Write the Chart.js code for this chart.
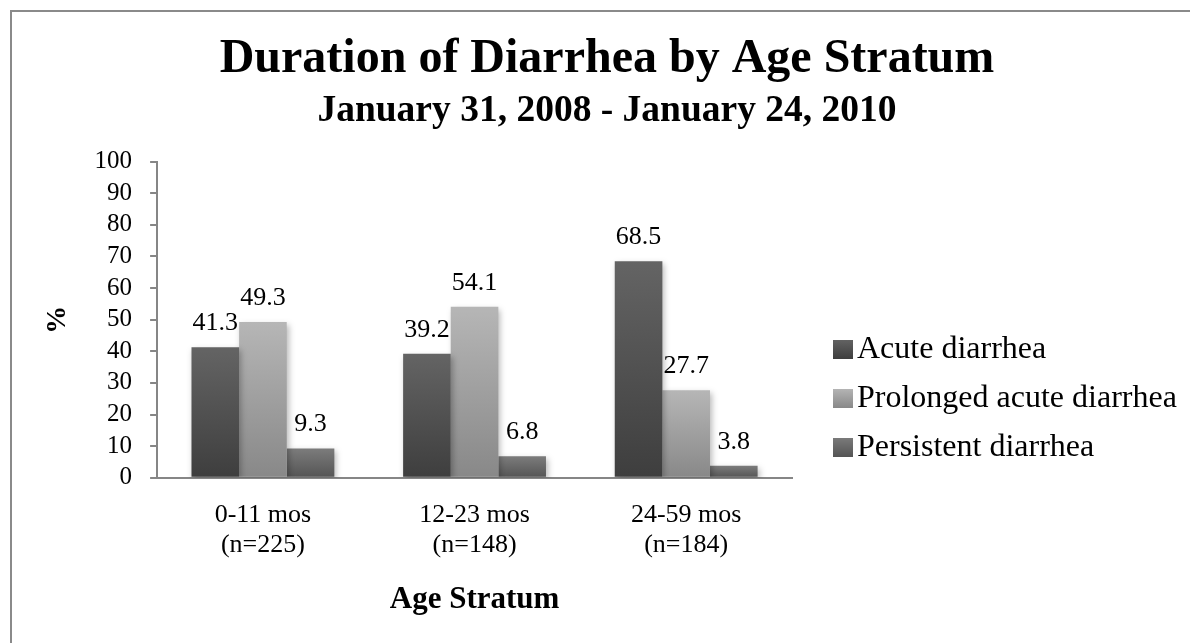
<!DOCTYPE html>
<html lang="en">
<head>
    <script src="https://cdn.jsdelivr.net/npm/chart.js"></script>
    <meta charset="UTF-8">
    <title>Duration of Diarrhea by Age Stratum</title>
    <style>
        body { margin: 0; background: #fff; overflow: hidden; }
        #frame {
            position: absolute; left: 10px; top: 10px; width: 1300px; height: 800px;
            border-left: 2px solid #8a8a8a; border-top: 2px solid #8a8a8a;
        }
        #myChart { position: absolute; left: 0; top: 0; }
    </style>
</head>
<body>
    <div id="frame"></div>
    <canvas id="myChart" width="1190" height="643"></canvas>
    <script>
        const ageGroups = [['0-11 mos', '(n=225)'], ['12-23 mos', '(n=148)'], ['24-59 mos', '(n=184)']];
        const acute = [41.3, 39.2, 68.5];
        const prolonged = [49.3, 54.1, 27.7];
        const persistent = [9.3, 6.8, 3.8];
        const seriesNames = ['Acute diarrhea', 'Prolonged acute diarrhea', 'Persistent diarrhea'];
        const yTicks = [0, 10, 20, 30, 40, 50, 60, 70, 80, 90, 100];

        const serif = 'Liberation Serif';
        // top / bottom shade of each series
        const shades = [['#646464', '#3e3e3e'], ['#b6b6b6', '#888888'], ['#7c7c7c', '#545454']];

        function barFill(i) {
            return (ctx) => {
                const chart = ctx.chart;
                const area = chart.chartArea;
                if (!area || ctx.raw === undefined) return shades[i][1];
                const top = chart.scales.y.getPixelForValue(ctx.raw);
                const g = chart.ctx.createLinearGradient(0, top, 0, area.bottom);
                g.addColorStop(0, shades[i][0]);
                g.addColorStop(1, shades[i][1]);
                return g;
            };
        }

        const barShadow = {
            id: 'barShadow',
            beforeDatasetsDraw(chart) {
                const c = chart.ctx;
                c.save();
                c.shadowColor = 'rgba(0,0,0,0.28)';
                c.shadowBlur = 6;
                c.shadowOffsetX = 2;
                c.shadowOffsetY = 3;
            },
            afterDatasetsDraw(chart) {
                chart.ctx.restore();
            }
        };

        const valueLabels = {
            id: 'valueLabels',
            afterDatasetsDraw(chart) {
                const c = chart.ctx;
                c.save();
                c.font = '26px "' + serif + '"';
                c.fillStyle = '#000';
                c.textAlign = 'center';
                c.textBaseline = 'middle';
                chart.data.datasets.forEach((ds, i) => {
                    chart.getDatasetMeta(i).data.forEach((bar, j) => {
                        c.fillText(ds.data[j].toFixed(1), bar.x, bar.y - 24);
                    });
                });
                c.restore();
            }
        };

        const sideLegend = {
            id: 'sideLegend',
            afterDraw(chart) {
                const c = chart.ctx;
                const x0 = chart.chartArea.right + 41;
                const yMid = 398;
                const step = 49;
                c.save();
                c.font = '32px "' + serif + '"';
                c.textBaseline = 'middle';
                chart.data.datasets.forEach((ds, i) => {
                    const y = yMid + (i - 1) * step;
                    const g = c.createLinearGradient(0, y - 10, 0, y + 10);
                    g.addColorStop(0, shades[i][0]);
                    g.addColorStop(1, shades[i][1]);
                    c.fillStyle = g;
                    c.fillRect(x0, y - 9, 20, 19);
                    c.fillStyle = '#000';
                    c.fillText(ds.label, x0 + 24, y + 1);
                });
                c.restore();
            }
        };

        const ctx = document.getElementById('myChart');
        new Chart(ctx, {
            type: 'bar',
            data: {
                labels: ageGroups,
                datasets: [
                    { label: seriesNames[0], data: acute, backgroundColor: barFill(0) },
                    { label: seriesNames[1], data: prolonged, backgroundColor: barFill(1) },
                    { label: seriesNames[2], data: persistent, backgroundColor: barFill(2) }
                ]
            },
            options: {
                responsive: false,
                animation: false,
                events: [],
                barPercentage: 1,
                categoryPercentage: 0.675,
                layout: { padding: { left: 24, right: 0, top: 0, bottom: 7 } },
                scales: {
                    x: {
                        grid: { display: false, drawTicks: false },
                        border: { display: true, color: '#868686', width: 2 },
                        ticks: {
                            color: '#000', padding: 22,
                            font: { family: serif, size: 26, lineHeight: 1.154 }
                        },
                        title: {
                            display: true, text: 'Age Stratum', color: '#000',
                            font: { family: serif, size: 31, weight: 'bold', lineHeight: 1.2 },
                            padding: { top: 0, bottom: 17 }
                        }
                    },
                    y: {
                        min: 0, max: 100,
                        afterBuildTicks: (axis) => { axis.ticks = yTicks.map(v => ({ value: v })); },
                        grid: { drawOnChartArea: false, drawTicks: true, tickLength: 7, color: '#868686', lineWidth: 2 },
                        border: { display: true, color: '#868686', width: 2 },
                        ticks: {
                            color: '#000', padding: 18, autoSkip: false,
                            font: { family: serif, size: 25 }
                        },
                        title: {
                            display: true, text: '%', color: '#000',
                            font: { family: serif, size: 28, weight: 'bold', lineHeight: 1.2 },
                            padding: { top: 17, bottom: 2 }
                        }
                    },
                    // empty space on the right for the legend
                    legendSpace: {
                        type: 'linear', axis: 'y', position: 'right',
                        grid: { display: false, drawTicks: false },
                        border: { display: false },
                        ticks: { display: false },
                        afterFit: (s) => { s.width = 398; }
                    }
                },
                plugins: {
                    legend: { display: false },
                    tooltip: { enabled: false },
                    title: {
                        display: true, text: 'Duration of Diarrhea by Age Stratum', color: '#000',
                        font: { family: serif, size: 48, weight: 'bold', lineHeight: 1.2 },
                        padding: { top: 31, bottom: 0 }
                    },
                    subtitle: {
                        display: true, text: 'January 31, 2008 - January 24, 2010', color: '#000',
                        font: { family: serif, size: 37.5, weight: 'bold', lineHeight: 1.2 },
                        padding: { top: 0, bottom: 28 }
                    }
                }
            },
            plugins: [barShadow, valueLabels, sideLegend]
        });
    </script>
</body>
</html>
